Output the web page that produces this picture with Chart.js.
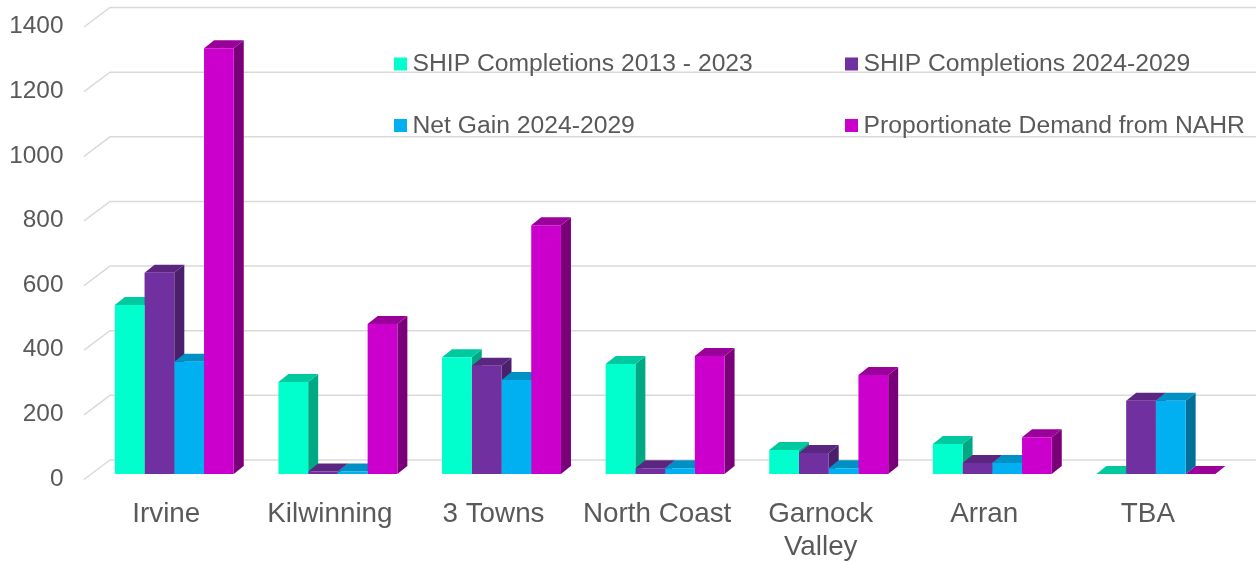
<!DOCTYPE html>
<html>
<head>
<meta charset="utf-8">
<style>html,body{margin:0;padding:0;background:#fff}canvas{display:block}</style>
<script src="https://cdn.jsdelivr.net/npm/chart.js@4"></script>
</head>
<body>
<canvas id="c" width="1256" height="562"></canvas>
<script>
const categories = ["Irvine","Kilwinning","3 Towns","North Coast",["Garnock","Valley"],"Arran","TBA"];
const shipPast = [523,285,361,340,74,93,0];
const shipFuture = [623,8,335,18,65,34,227];
const netGain = [347,8,291,18,18,34,227];
const demand = [1317,464,770,365,306,114,0];
const yTicksMax = 1400;
const names = ["SHIP Completions 2013 - 2023","SHIP Completions 2024-2029","Net Gain 2024-2029","Proportionate Demand from NAHR"];
const fronts = ["#00FFCC","#7030A0","#00B0F0","#CC00CC"];
const tops = ["#00C9A0","#5A2680","#0090C4","#9A009A"];
const sides = ["#00A884","#4A1F6B","#006F99","#7A007A"];

const depth = {dx:10, dy:8};
const wall = {x0:84, x1:110, below:5.5, above:14, right:1256};
const legendPos = [[394,57.5],[845,57.5],[394,119],[845,119]];

const threeD = {
  id:'threeD',
  beforeDatasetsDraw(chart){
    const ctx = chart.ctx, y = chart.scales.y;
    ctx.save();
    ctx.strokeStyle = '#DADADA';
    ctx.lineWidth = 1.5;
    y.ticks.forEach(t=>{
      const p = y.getPixelForValue(t.value);
      ctx.beginPath();
      ctx.moveTo(wall.x0,p+wall.below);
      ctx.lineTo(wall.x1,p-wall.above);
      ctx.lineTo(wall.right,p-wall.above);
      ctx.stroke();
    });
    for(let i=0;i<categories.length;i++){
      chart.data.datasets.forEach((ds,d)=>{
        const b = chart.getDatasetMeta(d).data[i];
        const l = b.x-b.width/2, r = b.x+b.width/2, t = b.y, bot = b.base;
        ctx.fillStyle = sides[d];
        ctx.beginPath();
        ctx.moveTo(r,t);ctx.lineTo(r+depth.dx,t-depth.dy);ctx.lineTo(r+depth.dx,bot-depth.dy);ctx.lineTo(r,bot);
        ctx.closePath();ctx.fill();
        ctx.fillStyle = tops[d];
        ctx.beginPath();
        ctx.moveTo(l,t);ctx.lineTo(l+depth.dx,t-depth.dy);ctx.lineTo(r+depth.dx,t-depth.dy);ctx.lineTo(r,t);
        ctx.closePath();ctx.fill();
      });
    }
    ctx.restore();
  },
  afterDraw(chart){
    const ctx = chart.ctx;
    ctx.save();
    ctx.font = '24.7px "Liberation Sans"';
    ctx.textBaseline = 'middle';
    chart.data.datasets.forEach((ds,d)=>{
      const [x,yy] = legendPos[d];
      ctx.fillStyle = fronts[d];
      ctx.fillRect(x,yy,13,13);
      ctx.fillStyle = '#595959';
      ctx.fillText(ds.label,x+18.5,yy+7);
    });
    ctx.restore();
  }
};

new Chart(document.getElementById('c'),{
  type:'bar',
  plugins:[threeD],
  data:{
    labels:categories,
    datasets:[shipPast,shipFuture,netGain,demand].map((v,i)=>({
      label:names[i],data:v,backgroundColor:fronts[i],borderWidth:0,
      categoryPercentage:0.727,barPercentage:1
    }))
  },
  options:{
    responsive:false,animation:false,
    layout:{padding:{left:0,top:21.5,right:18.3,bottom:0}},
    plugins:{legend:{display:false},tooltip:{enabled:false},title:{display:false}},
    scales:{
      x:{
        grid:{display:false,drawTicks:false},border:{display:false},
        ticks:{color:'#595959',font:{family:'"Liberation Sans"',size:27.8,lineHeight:1.18},padding:24,labelOffset:-8,maxRotation:0,autoSkip:false},
        afterFit(s){s.height=88;s.paddingLeft=0;s.paddingRight=0;}
      },
      y:{
        min:0,max:yTicksMax,
        grid:{display:false,drawTicks:false},border:{display:false},
        ticks:{color:'#595959',font:{family:'"Liberation Sans"',size:24.4},stepSize:200,padding:29,labelOffset:5,callback:v=>String(v)},
        afterFit(s){s.width=92.5;s.paddingTop=0;s.paddingBottom=0;}
      }
    }
  }
});
</script>
</body>
</html>
